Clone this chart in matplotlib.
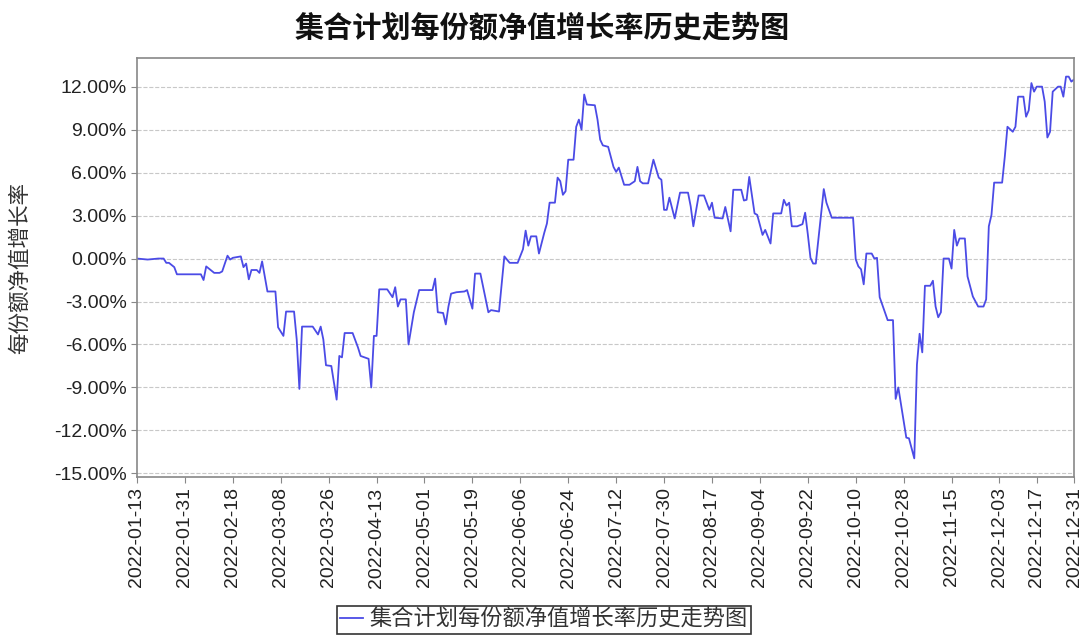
import matplotlib
matplotlib.use('Agg')
import matplotlib.pyplot as plt
import matplotlib.dates as mdates
from matplotlib.ticker import FuncFormatter
import pandas as pd

plt.rcParams['font.family'] = ['Liberation Sans', 'Noto Sans CJK SC']

title = '集合计划每份额净值增长率历史走势图'
y_label = '每份额净值增长率'

# points (date, growth in %)
dates = [
    '2022-01-13', '2022-01-17', '2022-01-21', '2022-01-23', '2022-01-24', '2022-01-25', '2022-01-27', '2022-01-28',
    '2022-02-06', '2022-02-07', '2022-02-08', '2022-02-11', '2022-02-13', '2022-02-14', '2022-02-16', '2022-02-17',
    '2022-02-18', '2022-02-21', '2022-02-22', '2022-02-23', '2022-02-24', '2022-02-25', '2022-02-27', '2022-02-28',
    '2022-03-01', '2022-03-03', '2022-03-06', '2022-03-07', '2022-03-09', '2022-03-10', '2022-03-13', '2022-03-14',
    '2022-03-15', '2022-03-16', '2022-03-20', '2022-03-22', '2022-03-23', '2022-03-24', '2022-03-25', '2022-03-27',
    '2022-03-29', '2022-03-30', '2022-03-31', '2022-04-01', '2022-04-04', '2022-04-06', '2022-04-07', '2022-04-10',
    '2022-04-11', '2022-04-12', '2022-04-13', '2022-04-14', '2022-04-17', '2022-04-19', '2022-04-20', '2022-04-21',
    '2022-04-22', '2022-04-24', '2022-04-25', '2022-04-27', '2022-04-29', '2022-05-04', '2022-05-05', '2022-05-06',
    '2022-05-08', '2022-05-09', '2022-05-10', '2022-05-11', '2022-05-13', '2022-05-16', '2022-05-17', '2022-05-18',
    '2022-05-19', '2022-05-20', '2022-05-22', '2022-05-25', '2022-05-26', '2022-05-29', '2022-05-31', '2022-06-02',
    '2022-06-05', '2022-06-07', '2022-06-08', '2022-06-09', '2022-06-10', '2022-06-12', '2022-06-13', '2022-06-15',
    '2022-06-16', '2022-06-17', '2022-06-19', '2022-06-20', '2022-06-21', '2022-06-22', '2022-06-23', '2022-06-24',
    '2022-06-26', '2022-06-27', '2022-06-28', '2022-06-29', '2022-06-30', '2022-07-01', '2022-07-04', '2022-07-05',
    '2022-07-06', '2022-07-07', '2022-07-09', '2022-07-11', '2022-07-12', '2022-07-13', '2022-07-15', '2022-07-17',
    '2022-07-19', '2022-07-20', '2022-07-21', '2022-07-22', '2022-07-24', '2022-07-26', '2022-07-28', '2022-07-29',
    '2022-07-30', '2022-07-31', '2022-08-01', '2022-08-03', '2022-08-05', '2022-08-08', '2022-08-09', '2022-08-10',
    '2022-08-12', '2022-08-14', '2022-08-16', '2022-08-17', '2022-08-18', '2022-08-21', '2022-08-22', '2022-08-24',
    '2022-08-25', '2022-08-28', '2022-08-29', '2022-08-30', '2022-08-31', '2022-09-02', '2022-09-03', '2022-09-05',
    '2022-09-06', '2022-09-08', '2022-09-09', '2022-09-12', '2022-09-13', '2022-09-14', '2022-09-15', '2022-09-16',
    '2022-09-18', '2022-09-20', '2022-09-21', '2022-09-22', '2022-09-23', '2022-09-24', '2022-09-25', '2022-09-28',
    '2022-09-29', '2022-10-01', '2022-10-09', '2022-10-10', '2022-10-11', '2022-10-12', '2022-10-13', '2022-10-14',
    '2022-10-16', '2022-10-17', '2022-10-18', '2022-10-19', '2022-10-22', '2022-10-24', '2022-10-25', '2022-10-26',
    '2022-10-29', '2022-10-30', '2022-11-01', '2022-11-02', '2022-11-03', '2022-11-04', '2022-11-05', '2022-11-07',
    '2022-11-08', '2022-11-09', '2022-11-10', '2022-11-11', '2022-11-12', '2022-11-14', '2022-11-15', '2022-11-16',
    '2022-11-17', '2022-11-18', '2022-11-20', '2022-11-21', '2022-11-23', '2022-11-25', '2022-11-27', '2022-11-28',
    '2022-11-29', '2022-11-30', '2022-12-01', '2022-12-04', '2022-12-05', '2022-12-06', '2022-12-08', '2022-12-09',
    '2022-12-10', '2022-12-12', '2022-12-13', '2022-12-14', '2022-12-15', '2022-12-16', '2022-12-17', '2022-12-19',
    '2022-12-20', '2022-12-21', '2022-12-22', '2022-12-23', '2022-12-25', '2022-12-26', '2022-12-27', '2022-12-28',
    '2022-12-29', '2022-12-30', '2022-12-31',
]
growth = [
    0.00, -0.07, 0.00, 0.00, -0.30, -0.30, -0.60, -1.10,
    -1.10, -1.50, -0.55, -1.00, -1.00, -0.90, 0.20, -0.07,
    0.05, 0.15, -0.60, -0.35, -1.45, -0.80, -0.80, -1.00,
    -0.20, -2.30, -2.30, -4.80, -5.40, -3.70, -3.70, -5.65,
    -9.10, -4.75, -4.75, -5.30, -4.75, -5.65, -7.45, -7.50,
    -9.85, -6.80, -6.90, -5.20, -5.20, -6.20, -6.80, -7.00,
    -9.00, -5.40, -5.40, -2.15, -2.15, -2.70, -2.00, -3.35,
    -2.85, -2.85, -6.00, -3.75, -2.20, -2.20, -1.40, -3.75,
    -3.80, -4.60, -3.35, -2.45, -2.35, -2.30, -2.20, -2.85,
    -3.50, -1.05, -1.05, -3.75, -3.60, -3.70, 0.15, -0.30,
    -0.30, 0.65, 1.95, 0.90, 1.55, 1.55, 0.35, 1.80,
    2.45, 3.90, 3.90, 5.65, 5.40, 4.45, 4.70, 6.90,
    6.90, 9.20, 9.70, 9.00, 11.45, 10.75, 10.70, 9.70,
    8.30, 7.90, 7.80, 6.40, 6.05, 6.35, 5.15, 5.15,
    5.40, 6.40, 5.40, 5.25, 5.25, 6.90, 5.65, 5.50,
    3.40, 3.40, 4.25, 2.80, 4.60, 4.60, 3.65, 2.25,
    4.40, 4.40, 3.40, 3.90, 2.85, 2.80, 3.60, 1.90,
    4.80, 4.80, 4.05, 4.10, 5.70, 3.15, 3.05, 1.65,
    2.00, 1.05, 3.15, 3.15, 4.10, 3.70, 3.90, 2.25,
    2.25, 2.40, 3.20, 1.70, 0.05, -0.35, -0.35, 4.85,
    3.90, 2.85, 2.85, -0.05, -0.55, -0.75, -1.80, 0.35,
    0.35, 0.00, 0.05, -2.70, -4.30, -4.30, -9.80, -9.00,
    -12.50, -12.55, -13.95, -7.40, -5.25, -6.55, -1.90, -1.90,
    -1.55, -3.35, -4.10, -3.75, 0.00, 0.00, -0.70, 2.00,
    0.90, 1.40, 1.40, -1.25, -2.65, -3.35, -3.35, -2.85,
    2.25, 3.05, 5.30, 5.30, 7.10, 9.20, 8.85, 9.20,
    11.30, 11.30, 9.90, 10.35, 12.25, 11.65, 12.00, 12.00,
    10.95, 8.45, 8.85, 11.65, 12.00, 12.00, 11.30, 12.70,
    12.70, 12.35, 12.50,
]

tick_dates = ['2022-01-13', '2022-01-31', '2022-02-18', '2022-03-08', '2022-03-26', '2022-04-13',
              '2022-05-01', '2022-05-19', '2022-06-06', '2022-06-24', '2022-07-12', '2022-07-30',
              '2022-08-17', '2022-09-04', '2022-09-22', '2022-10-10', '2022-10-28', '2022-11-15',
              '2022-12-03', '2022-12-17', '2022-12-31']
y_ticks = [-15, -12, -9, -6, -3, 0, 3, 6, 9, 12]

W, H = 1085, 635
fig = plt.figure(figsize=(W / 100, H / 100), dpi=100)
ax = fig.add_axes([137 / W, 1 - 477 / H, (1074 - 137) / W, (477 - 58) / H])

ax.plot(pd.to_datetime(dates), growth, color='#4b4be6', lw=1.3, label=title)

ax.set_xlim(pd.Timestamp('2022-01-13'), pd.Timestamp('2022-12-31'))
ax.set_ylim(-15.25, 14.0)
ax.set_yticks(y_ticks)
ax.yaxis.set_major_formatter(FuncFormatter(lambda v, p: '%.2f%%' % v))
ax.set_xticks(pd.to_datetime(tick_dates))
ax.xaxis.set_major_formatter(mdates.DateFormatter('%Y-%m-%d'))
ax.tick_params(axis='x', labelrotation=90, labelsize=14, colors='#888888', labelcolor='#222222', length=4)
ax.tick_params(axis='y', labelsize=14, colors='#888888', labelcolor='#222222', length=4)

ax.grid(axis='y', linestyle='--', color='#c8c8c8', lw=0.8)
for s in ax.spines.values():
    s.set_color('#888888')
    s.set_linewidth(1.2)

fig.text(0.5, 1 - 27 / H, title, ha='center', va='center', fontsize=21, fontweight='bold',
         family='Noto Sans CJK SC', color='#111111')
fig.text(20 / W, 1 - 268 / H, y_label, rotation=90, ha='center', va='center', fontsize=15.5,
         family='Noto Sans CJK SC', color='#333333')

leg = fig.legend(loc='upper center', bbox_to_anchor=(544 / W, 1 - 606 / H), fontsize=16, frameon=True,
                 fancybox=False, edgecolor='black', handlelength=1.0, handletextpad=0.3,
                 borderpad=0.15, borderaxespad=0)
leg.get_frame().set_linewidth(1.2)
for t in leg.get_texts():
    t.set_color('#333333')

fig.savefig('out.png', dpi=100)
